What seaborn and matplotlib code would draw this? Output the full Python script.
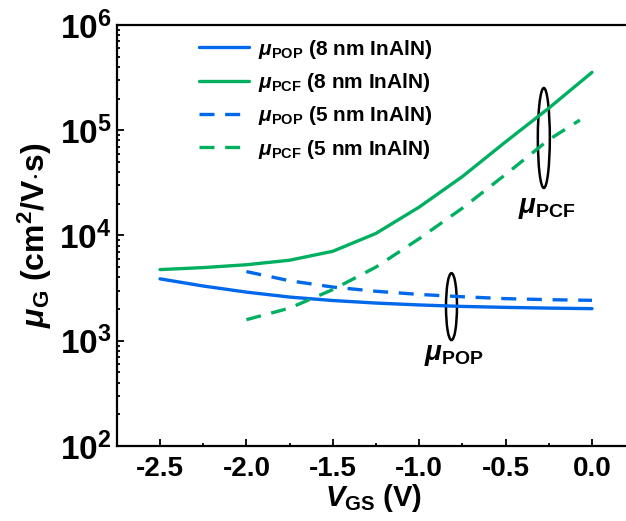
import numpy as np
import pandas as pd
import matplotlib
matplotlib.use("Agg")
import matplotlib.pyplot as plt
import seaborn as sns
from matplotlib.patches import Ellipse
from matplotlib.ticker import FuncFormatter, MultipleLocator, LogLocator

sns.set_style("ticks")
plt.rcParams['font.family'] = ['Liberation Sans', 'DejaVu Sans']
plt.rcParams['font.weight'] = 'bold'
plt.rcParams['text.color'] = 'black'
plt.rcParams['axes.labelcolor'] = 'black'
plt.rcParams['xtick.color'] = 'black'
plt.rcParams['ytick.color'] = 'black'
plt.rcParams['axes.edgecolor'] = 'black'
plt.rcParams['mathtext.fontset'] = 'custom'
plt.rcParams['mathtext.rm'] = 'Liberation Sans:bold'
plt.rcParams['mathtext.bf'] = 'Liberation Sans:bold'
plt.rcParams['mathtext.it'] = 'Liberation Sans:bold:italic'
plt.rcParams['mathtext.default'] = 'bf'

# Data
vgs_8nm = [-2.5, -2.25, -2.0, -1.75, -1.5, -1.25, -1.0, -0.75, -0.5, -0.25, 0.0]
pop_8nm = [3873, 3311, 2897, 2600, 2410, 2280, 2188, 2118, 2075, 2042, 2018]
pcf_8nm = [4742, 4955, 5272, 5821, 7079, 10471, 18621, 36308, 77625, 162181, 354813]

vgs_5nm_pop = [-2.0, -1.75, -1.5, -1.25, -1.0, -0.75, -0.5, -0.25, 0.0]
pop_5nm = [4539, 3715, 3236, 2951, 2754, 2618, 2512, 2455, 2421]

vgs_5nm_pcf = [-2.0, -1.75, -1.5, -1.25, -1.0, -0.75, -0.5, -0.25, -0.07]
pcf_5nm = [1585, 2042, 3062, 5012, 9333, 18197, 38019, 81283, 125000]

labels = [r'$\mathit{\mu}_{\rm POP}$ (8 nm InAlN)',
          r'$\mathit{\mu}_{\rm PCF}$ (8 nm InAlN)',
          r'$\mathit{\mu}_{\rm POP}$ (5 nm InAlN)',
          r'$\mathit{\mu}_{\rm PCF}$ (5 nm InAlN)']

blue = '#0068ea'
green = '#00b060'

fig = plt.figure(figsize=(6.26, 5.21), dpi=100)
ax = fig.add_axes([0.1869, 0.144, 0.8195, 0.808])

lw = 2.4
sns.lineplot(x=vgs_8nm, y=pop_8nm, ax=ax, color=blue, lw=lw, label=labels[0])
sns.lineplot(x=vgs_8nm, y=pcf_8nm, ax=ax, color=green, lw=lw, label=labels[1])
sns.lineplot(x=vgs_5nm_pop, y=pop_5nm, ax=ax, color=blue, lw=lw, label=labels[2])
sns.lineplot(x=vgs_5nm_pcf, y=pcf_5nm, ax=ax, color=green, lw=lw, label=labels[3])
for ln in ax.lines[2:4]:
    ln.set_dashes((4.5, 3.2))

ax.set_yscale('log')
ax.set_ylim(1e2, 1e6)
ax.set_xlim(-2.749, 0.22)

ax.xaxis.set_major_locator(MultipleLocator(0.5))
ax.xaxis.set_minor_locator(MultipleLocator(0.25))
ax.yaxis.set_major_locator(LogLocator(base=10, numticks=10))
ax.yaxis.set_minor_locator(LogLocator(base=10, subs=np.arange(2, 10), numticks=20))
ax.yaxis.set_major_formatter(FuncFormatter(lambda v, p: r'$\mathbf{10^{%d}}$' % int(round(np.log10(v)))))
ax.xaxis.set_major_formatter(FuncFormatter(lambda v, p: '%.1f' % v if abs(v) > 1e-9 else '0.0'))

ax.tick_params(which='both', direction='in', width=1.3, top=False, right=False)
ax.tick_params(which='major', length=5)
ax.tick_params(which='minor', length=2.5)
ax.tick_params(axis='x', labelsize=20, pad=7)
ax.tick_params(axis='y', labelsize=24, pad=4)
for lab in ax.get_xticklabels() + ax.get_yticklabels():
    lab.set_fontweight('bold')

for s in ax.spines.values():
    s.set_linewidth(1.6)

ax.set_xlabel(r'$\mathit{V}_{\rm GS}$ (V)', fontsize=21, fontweight='bold', labelpad=0)
ax.set_ylabel(r'$\mathit{\mu}_{\rm G}$ (cm$^{2}$/V$\cdot$s)', fontsize=23, fontweight='bold', labelpad=4)

leg = ax.legend(loc='upper left', bbox_to_anchor=(0.135, 1.0), frameon=False,
                fontsize=15, handlelength=2.4, handletextpad=0.45, labelspacing=0.5,
                borderaxespad=0.2)
for t in leg.get_texts():
    t.set_fontweight('bold')

# Ellipses and annotations
ax.add_patch(Ellipse((0.832, 0.7316), 0.0234, 0.2375, transform=ax.transAxes,
                     fill=False, ec='black', lw=1.8))
ax.add_patch(Ellipse((0.652, 0.331), 0.0214, 0.159, transform=ax.transAxes,
                     fill=False, ec='black', lw=1.8))
ax.text(0.838, 0.565, r'$\mathit{\mu}_{\rm PCF}$', transform=ax.transAxes,
        fontsize=20, ha='center', va='center')
ax.text(0.657, 0.216, r'$\mathit{\mu}_{\rm POP}$', transform=ax.transAxes,
        fontsize=20, ha='center', va='center')

fig.savefig('out.png', dpi=100)
